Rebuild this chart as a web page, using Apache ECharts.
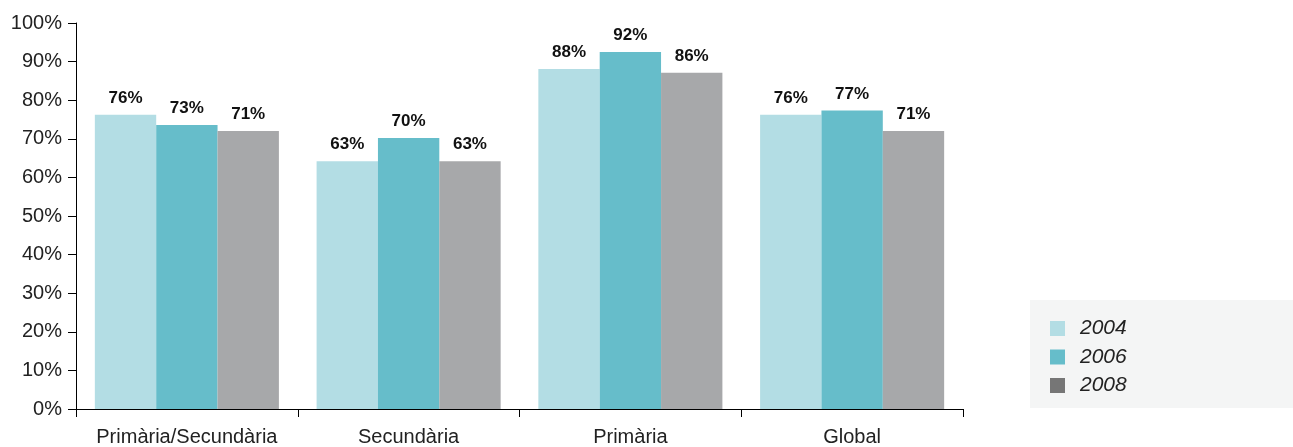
<!DOCTYPE html>
<html>
<head>
<meta charset="utf-8">
<script src="https://cdn.jsdelivr.net/npm/echarts@6/dist/echarts.min.js"></script>
<style>
html,body{margin:0;padding:0;background:#fff;}
#chart{width:1293px;height:447px;}
</style>
</head>
<body>
<div id="chart"></div>
<script>
const categories = ['Primària/Secundària', 'Secundària', 'Primària', 'Global'];
const seriesNames = ['2004', '2006', '2008'];
const values2004 = [76.2, 64.2, 88.1, 76.2];
const values2006 = [73.6, 70.2, 92.5, 77.3];
const values2008 = [72.0, 64.2, 87.1, 72.0];
const labels2004 = ['76%', '63%', '88%', '76%'];
const labels2006 = ['73%', '70%', '92%', '77%'];
const labels2008 = ['71%', '63%', '86%', '71%'];
const yTicks = [0, 10, 20, 30, 40, 50, 60, 70, 80, 90, 100];

const colors = ['#b3dde4', '#66bdca', '#a7a8aa'];
const legendColors = ['#b3dde4', '#66bdca', '#767676'];
const allValues = [values2004, values2006, values2008];
const allLabels = [labels2004, labels2006, labels2008];
const fontFamily = '"Liberation Sans", Arial, Helvetica, sans-serif';

const chart = echarts.init(document.getElementById('chart'), null, {renderer: 'canvas'});
chart.setOption({
  animation: false,
  backgroundColor: '#ffffff',
  grid: {left: 76, right: 330, top: 23, bottom: 38, containLabel: false},
  graphic: [{
    type: 'rect', left: 1030, top: 300, z: -1,
    shape: {width: 263, height: 108},
    style: {fill: '#f4f5f5'}
  }],
  legend: {
    orient: 'vertical',
    left: 1045, top: 313,
    itemWidth: 15, itemHeight: 15, itemGap: 7.5,
    icon: 'rect',
    textStyle: {fontFamily: fontFamily, fontSize: 21, fontStyle: 'italic', color: '#222', padding: [0, 0, 0, 10]},
    data: seriesNames.map((n, i) => ({name: n, itemStyle: {color: legendColors[i]}}))
  },
  xAxis: {
    type: 'category',
    data: categories,
    axisLine: {show: true, lineStyle: {color: '#000', width: 1}},
    axisTick: {show: true, length: 8, interval: 0, alignWithLabel: false, lineStyle: {color: '#000'}},
    axisLabel: {fontFamily: fontFamily, fontSize: 20, color: '#222', margin: 18, interval: 0, hideOverlap: false}
  },
  yAxis: {
    type: 'value',
    min: yTicks[0], max: yTicks[yTicks.length - 1], interval: 10,
    axisLine: {show: true, lineStyle: {color: '#000', width: 1}},
    axisTick: {show: true, length: 8, lineStyle: {color: '#000'}},
    splitLine: {show: false},
    axisLabel: {fontFamily: fontFamily, fontSize: 20, color: '#222', margin: 14, formatter: v => v + '%'}
  },
  series: seriesNames.map((name, i) => ({
    name: name,
    type: 'bar',
    data: allValues[i],
    barGap: '0%',
    barCategoryGap: '17%',
    itemStyle: {color: colors[i]},
    label: {
      show: true, position: 'top', distance: 8,
      fontFamily: fontFamily, fontSize: 17, fontWeight: 'bold', color: '#111',
      formatter: p => allLabels[i][p.dataIndex]
    }
  }))
});
</script>
</body>
</html>
